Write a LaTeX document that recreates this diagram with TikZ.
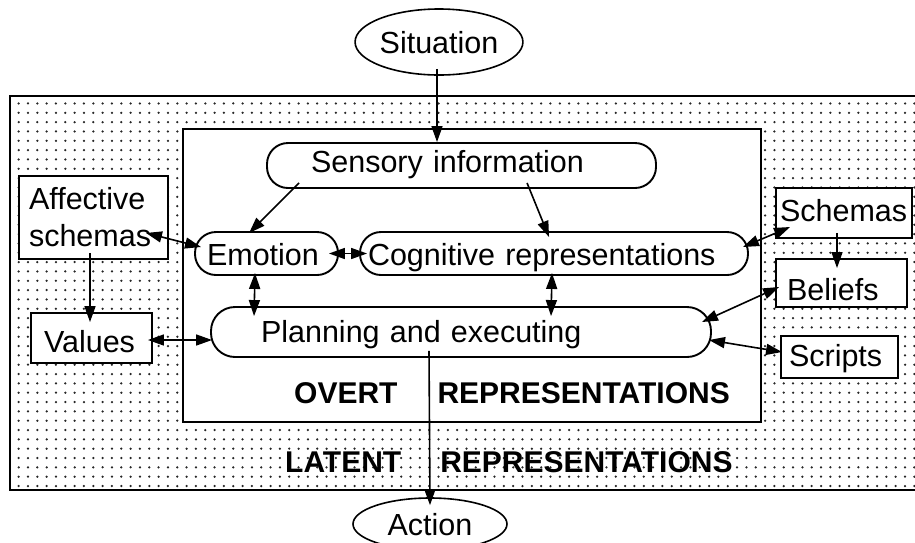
\documentclass[tikz,border=0pt]{standalone}
\usepackage{fontspec}
\setmainfont{Liberation Sans}
\usetikzlibrary{arrows.meta,patterns.meta,shapes.geometric}

\begin{document}
\begin{tikzpicture}[
    x=1pt, y=-1pt,
    font=\fontsize{30.5}{37}\selectfont,
    rbox/.style={rectangle, draw=black, line width=1.9pt, rounded corners=21pt, align=left, inner ysep=2pt, minimum height=43pt},
    sbox/.style={rectangle, draw=black, line width=1.9pt, fill=white, align=left, inner ysep=2pt},
    oval/.style={ellipse, draw=black, line width=1.6pt, inner sep=0pt, text height=22pt, text depth=0pt},
    tag/.style={font=\fontsize{30}{36}\bfseries\selectfont, anchor=base west, inner sep=0pt},
    arrow/.style={-{Triangle[length=16pt,width=11pt]}, line width=1.6pt},
    darrow/.style={{Triangle[length=16pt,width=11pt]}-{Triangle[length=16pt,width=11pt]}, line width=1.6pt}
]
    \useasboundingbox (0,0) rectangle (915,542);

    % latent and overt areas
    \draw [line width=2.2pt, pattern={Dots[distance=9.33pt,radius=1.25pt]}, pattern color=black!85] (10,96) rectangle (935,490);
    \draw [line width=2pt, fill=white] (183,129) rectangle (761,422);

    \node (sit) [oval, minimum width=148pt, minimum height=66pt] at (439,42) {Situation};
    \node (act) [oval, minimum width=154pt, minimum height=52pt] at (430,524) {Action};

    \node (sens) [rbox, text width=301pt, inner xsep=44pt, minimum height=45pt, text height=13pt, text depth=0pt] at (461.5,165.5) {Sensory information};
    \node (emo) [rbox, text width=119pt, inner xsep=12pt, text height=23pt, text depth=0pt] at (266.5,253.5) {Emotion};
    \node (cog) [rbox, text width=372pt, inner xsep=8pt, text height=23pt, text depth=0pt] at (554,253.5) {Cognitive representations};
    \node (plan) [rbox, text width=400pt, inner xsep=50pt, minimum height=50pt, rounded corners=24pt, text height=20pt, text depth=0pt] at (461,332) {Planning and executing};

    \node (aff) [sbox, text width=129pt, inner xsep=10pt, minimum height=83pt] at (93.5,217.5) {Affective\\schemas};
    \node (val) [sbox, text width=95pt, inner xsep=13pt, minimum height=50pt, text height=29.4pt, text depth=0pt] at (91.5,338) {Values};
    \node (sch) [sbox, text width=128pt, inner xsep=4pt, minimum height=50pt, text height=17.4pt, text depth=0pt] at (844,213) {Schemas};
    \node (bel) [sbox, text width=109pt, inner xsep=11pt, minimum height=48pt, text height=34pt, text depth=0pt] at (841.5,283) {Beliefs};
    \node (scr) [sbox, text width=101pt, inner xsep=8pt, minimum height=42pt, text height=19.4pt, text depth=0pt] at (839.5,357) {Scripts};

    \node (ovt) [tag] at (294,403) {OVERT\hspace{40pt}REPRESENTATIONS};
    \node (lat) [tag] at (285,472) {LATENT\hspace{39pt}REPRESENTATIONS};

    \draw [arrow] ([xshift=-2pt,yshift=7pt]sit.south) -- ([xshift=-24.5pt]sens.north);
    \draw [arrow] ([xshift=33pt,yshift=6pt]sens.south west) -- ([xshift=55pt,yshift=-2pt]emo.north west);
    \draw [arrow] ([xshift=261pt,yshift=6pt]sens.south west) -- ([xshift=190pt,yshift=-6pt]cog.north west);
    \draw [darrow] ([xshift=-10pt]emo.east) -- ([xshift=8pt]cog.west);
    \draw [darrow] ([xshift=-23pt,yshift=27pt]aff.south east) -- ([xshift=7pt,yshift=6.5pt]emo.west);
    \draw [arrow] ([xshift=-3.5pt,yshift=7pt]aff.south) -- ([xshift=-1.5pt,yshift=-10pt]val.north);
    \draw [darrow] ([xshift=-5pt,yshift=-2pt]val.east) -- ([xshift=2pt,yshift=-8pt]plan.west);
    \draw [darrow] ([xshift=-11.5pt,yshift=3pt]emo.south) -- ([xshift=44pt,yshift=-10pt]plan.north west);
    \draw [darrow] ([xshift=-2pt,yshift=3pt]cog.south) -- ([xshift=341pt,yshift=-10pt]plan.north west);
    \draw [darrow] ([xshift=-6pt,yshift=6.5pt]cog.east) -- ([xshift=15pt,yshift=-14pt]sch.west);
    \draw [arrow] ([xshift=-7pt,yshift=6pt]sch.south) -- ([xshift=-4.5pt,yshift=-10pt]bel.north);
    \draw [darrow] ([xshift=4pt,yshift=-4pt]bel.west) -- ([xshift=-10pt,yshift=10pt]plan.east);
    \draw [darrow] ([xshift=2pt,yshift=5pt]scr.west) -- ([xshift=-3pt,yshift=-8pt]plan.east);
    \draw [arrow] ([xshift=-32pt,yshift=7pt]plan.south) -- ([yshift=-8pt]act.north);
\end{tikzpicture}
\end{document}
